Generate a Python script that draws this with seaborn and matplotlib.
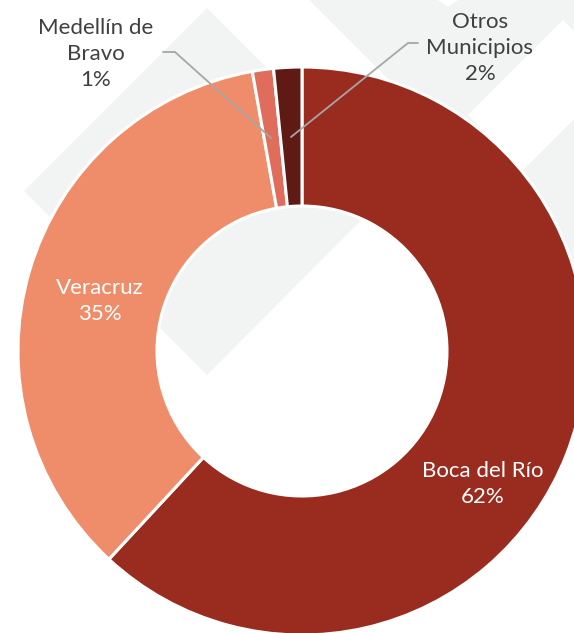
import matplotlib
matplotlib.use("Agg")
import matplotlib.pyplot as plt
import seaborn as sns

# data
categories = ["Boca del Río", "Veracruz", "Medellín de\nBravo", "Otros\nMunicipios"]
shares = [61.9, 35.3, 1.2, 1.6]
colors = ["#9A2C1F", "#EF8D6B", "#E06C5C", "#5E1A13"]

sns.set_theme(style="white")
plt.rcParams["font.family"] = ["Lato", "DejaVu Sans"]

W, H = 574, 633
fig = plt.figure(figsize=(W / 100, H / 100), dpi=100)
ax = fig.add_axes([0, 0, 1, 1])

def P(x, y):
    return (x, H - y)

gray = "#F2F3F3"
# watermark shapes
wm_a = [P(207, 8), P(390, 191), P(207, 375), P(24, 191)]
ax.fill(*zip(*wm_a), color=gray, zorder=0, lw=0)
wm_b = [P(309, 0), P(574, 0), P(574, 265)]
ax.fill(*zip(*wm_b), color=gray, zorder=0, lw=0)
# white cut-outs inside the gray
wm_w1 = [P(563, 20), P(468, 115), P(523, 170), P(618, 75)]
ax.fill(*zip(*wm_w1), color="white", zorder=0.5, lw=0)
wm_w2 = [P(438, 0), P(458, 0), P(448, 7)]
ax.fill(*zip(*wm_w2), color="white", zorder=0.5, lw=0)

cx, cy = P(302, 351)
R = 284
wedges, _ = ax.pie(
    shares, colors=colors, startangle=90, counterclock=False,
    center=(cx, cy), radius=R, frame=True,
    wedgeprops=dict(width=R - 145, edgecolor="white", linewidth=2.2),
)
for w in wedges:
    w.set_zorder(2)
ax.set_xlim(0, W)
ax.set_ylim(0, H)
ax.set_aspect("equal")
ax.axis("off")

def pct(v):
    return f"{round(v)}%"

fs = 16
ls = 1.4
# inside labels
ax.text(*P(483, 484), f"{categories[0]}\n{pct(shares[0])}", ha="center", va="center",
        color="white", fontsize=fs, linespacing=ls, zorder=3)
ax.text(*P(100, 301), f"{categories[1]}\n{pct(shares[1])}", ha="center", va="center",
        color="white", fontsize=fs, linespacing=ls, zorder=3)
# outside labels
ax.text(*P(96, 54), f"{categories[2]}\n{pct(shares[2])}", ha="center", va="center",
        color="#404040", fontsize=fs, linespacing=ls, zorder=3)
ax.text(*P(480, 48), f"{categories[3]}\n{pct(shares[3])}", ha="center", va="center",
        color="#404040", fontsize=fs, linespacing=ls, zorder=3)

lc = "#A6A6A6"
l1 = [P(163, 52), P(175, 52), P(271, 138)]
ax.plot(*zip(*l1), color=lc, lw=1.3, zorder=4)
l2 = [P(418, 43), P(408, 43), P(291, 137)]
ax.plot(*zip(*l2), color=lc, lw=1.3, zorder=4)

fig.savefig("out.png", dpi=100)
